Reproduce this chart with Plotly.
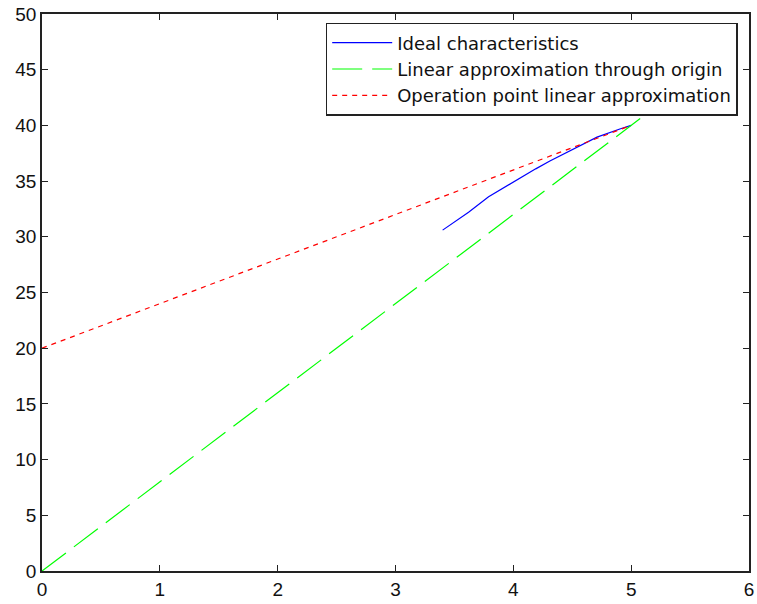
import plotly.graph_objects as go

# Ideal characteristics
ideal_x = [3.40, 3.62, 3.79, 3.90, 4.04, 4.19, 4.31, 4.51, 4.71, 4.91, 5.00]
ideal_y = [30.6, 32.2, 33.6, 34.3, 35.2, 36.1, 36.8, 37.9, 38.95, 39.7, 40.0]

# Linear approximation through origin (continues behind the legend)
origin_x = [0, 5.5]
origin_y = [0, 44]

# Operation point linear approximation
op_x = [0, 5]
op_y = [20, 40]

x_ticks = [0, 1, 2, 3, 4, 5, 6]
y_ticks = [0, 5, 10, 15, 20, 25, 30, 35, 40, 45, 50]

tick_font = dict(family="Liberation Sans, Arial, sans-serif", size=19, color="#111")
legend_font = dict(family="DejaVu Sans, sans-serif", size=18, color="#111")

fig = go.Figure()
fig.add_trace(go.Scatter(x=ideal_x, y=ideal_y, mode="lines", name="Ideal characteristics",
                         line=dict(color="#0000FF", width=1.2)))
fig.add_trace(go.Scatter(x=origin_x, y=origin_y, mode="lines", name="Linear approximation through origin",
                         line=dict(color="#00FF00", width=1.2, dash="30px,10px")))
fig.add_trace(go.Scatter(x=op_x, y=op_y, mode="lines", name="Operation point linear approximation",
                         line=dict(color="#FF0000", width=1.2, dash="5px,5px")))

axis_common = dict(showline=True, linecolor="#222", linewidth=1.5, mirror="ticks",
                   ticks="inside", ticklen=6, tickcolor="#222", showgrid=False, zeroline=False,
                   tickfont=tick_font, automargin=False, ticklabeloverflow="allow")

fig.update_xaxes(range=[0, 6], tickvals=x_ticks, **axis_common)
fig.update_yaxes(range=[0, 50], tickvals=y_ticks, **axis_common)

fig.update_layout(
    width=757, height=604,
    margin=dict(l=42, r=8, t=14, b=33),
    paper_bgcolor="white", plot_bgcolor="white",
    font=tick_font,
    showlegend=True,
    legend=dict(x=0.984, y=0.984, xanchor="right", yanchor="top",
                bgcolor="white", bordercolor="#222", borderwidth=1.5,
                font=legend_font, tracegroupgap=0, itemwidth=60),
)

# remove the default page margin so the figure sits at the window's top-left corner
fig.write_html("out.html", config={"displayModeBar": False},
               post_script="document.body.style.margin='0';document.body.style.overflow='hidden';")
